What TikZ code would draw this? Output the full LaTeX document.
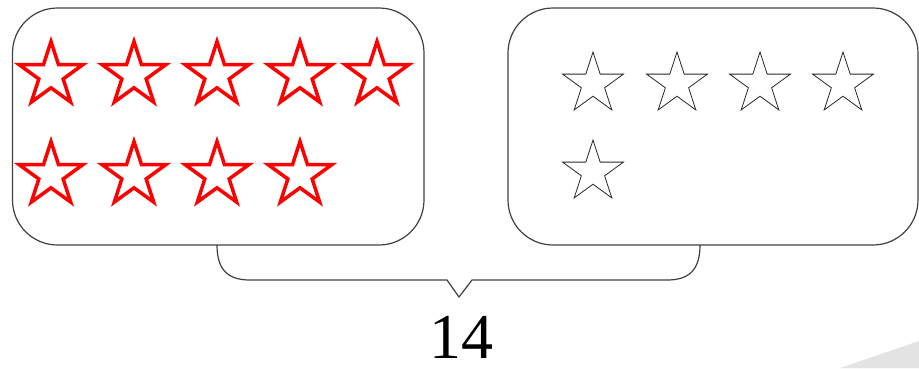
\documentclass[tikz,border=0pt]{standalone}
\usepackage{fontspec}
\setmainfont{Liberation Serif}
\usetikzlibrary{shapes.geometric}
\begin{document}
\begin{tikzpicture}[x=1pt,y=-1pt,
  boxline/.style={draw=black!75,line width=1.2pt,rounded corners=45pt},
  redstar/.style={shape=star,star points=5,star point ratio=2.618,draw=red,line width=3.5pt,
    minimum size=67pt,inner sep=0pt,outer sep=0pt},
  blackstar/.style={shape=star,star points=5,star point ratio=2.618,draw=black!85,line width=0.8pt,
    minimum size=64pt,inner sep=0pt,outer sep=0pt},
  braceline/.style={draw=black!75,line width=1.2pt}]
\useasboundingbox (0,0) rectangle (919,368);
\fill[black!11] (840,368) -- (919,341) -- (919,368) -- cycle;
% boxes
\draw[boxline] (12.5,8) rectangle (424,245);
\draw[boxline] (508,8) rectangle (918,245);
\coordinate (lb) at (217,245);
\coordinate (rb) at (700,245);
\coordinate (tip) at (459,297);
% red stars
\foreach \x [count=\i] in {51,134,217,300,377}
  \node[redstar] (r\i) at (\x,75) {};
\foreach \x [count=\i from 6] in {51,134,217,300}
  \node[redstar] (r\i) at (\x,175) {};
% black stars
\foreach \x [count=\i] in {593,677,760,843}
  \node[blackstar] (b\i) at (\x,84) {};
\node[blackstar] (b5) at (593,172) {};
% brace
\draw[braceline] (lb) .. controls (217,270) and (228,280) .. (250,280) -- (447,280) -- (tip)
  -- (472,280) -- (667,280) .. controls (689,280) and (700,270) .. (rb);
\node[font=\fontsize{64}{64}\selectfont,inner sep=0pt] (sum) at (461,337) {14};
\end{tikzpicture}
\end{document}
